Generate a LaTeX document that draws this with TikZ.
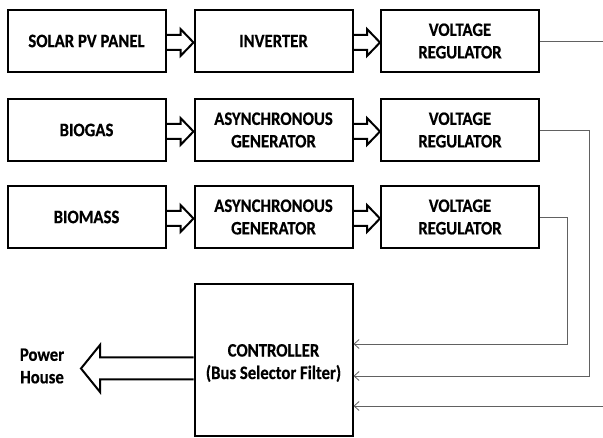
\documentclass[tikz,border=0pt]{standalone}
\usepackage{fontspec}
\setmainfont{Carlito}[FakeStretch=0.88,BoldFeatures={FakeBold=0.5}]
\usetikzlibrary{arrows.meta,calc}
\begin{document}
\begin{tikzpicture}[x=1pt,y=-1pt,
  blk/.style={draw=black,line width=2pt,minimum width=158pt,minimum height=62pt,inner sep=0pt,align=center,
    font=\fontsize{19}{22.5}\selectfont\bfseries},
  barrow/.style={draw=black,line width=2pt,line join=miter},
  fb/.style={draw=black!62,line width=0.9pt,-{Straight Barb[length=5pt,width=9pt,line width=0.8pt]}},
  lbl/.style={align=center,inner sep=0pt,font=\fontsize{19}{22.5}\selectfont\bfseries}]
\useasboundingbox (0,0) rectangle (603,438);
% row 1
\node[blk] (a1) at (86.5,41) {SOLAR PV PANEL};
\node[blk] (a2) at (273.5,41) {INVERTER};
\node[blk] (a3) at (460,41) {VOLTAGE\\REGULATOR};
% row 2
\node[blk] (b1) at (86.5,130) {BIOGAS};
\node[blk] (b2) at (273.5,130) {ASYNCHRONOUS\\GENERATOR};
\node[blk] (b3) at (460,130) {VOLTAGE\\REGULATOR};
% row 3
\node[blk] (c1) at (86.5,217) {BIOMASS};
\node[blk] (c2) at (273.5,217) {ASYNCHRONOUS\\GENERATOR};
\node[blk] (c3) at (460,217) {VOLTAGE\\REGULATOR};
% controller
\node[blk,minimum height=152pt] (ctrl) at (273.5,360) {};
\node[lbl] (ctrltxt) at (273.5,363) {CONTROLLER\\(Bus Selector Filter)};
% block arrows
\foreach \s/\t in {a1/a2,a2/a3,b1/b2,b2/b3,c1/c2,c2/c3}{
  \draw[barrow] ($(\s.east)+(0,-6)$) -- ($(\t.west)+(-13,-6)$) -- ($(\t.west)+(-13,-12)$)
    -- ($(\t.west)+(0,1.5)$) -- ($(\t.west)+(-13,15)$) -- ($(\t.west)+(-13,9)$) -- ($(\s.east)+(0,9)$);
}
% power house arrow
\coordinate (phtip) at (81,368.5);
\draw[barrow] (ctrl.west |- 0,357.5) -- (100,357.5) -- (100,345) -- (phtip) -- (100,392) -- (100,379.5) -- (ctrl.west |- 0,379.5);
\node[lbl] (ph) at (42,366) {Power\\House};
% feedback lines
\coordinate (k1) at (606,406);
\coordinate (k2) at (589,376);
\coordinate (k3) at (567,344);
\draw[fb] (a3.east) -- (a3.east -| k1) -- (k1) -- (k1 -| ctrl.east);
\draw[fb] (b3.east) -- (b3.east -| k2) -- (k2) -- (k2 -| ctrl.east);
\draw[fb] (c3.east) -- (c3.east -| k3) -- (k3) -- (k3 -| ctrl.east);
\end{tikzpicture}
\end{document}
